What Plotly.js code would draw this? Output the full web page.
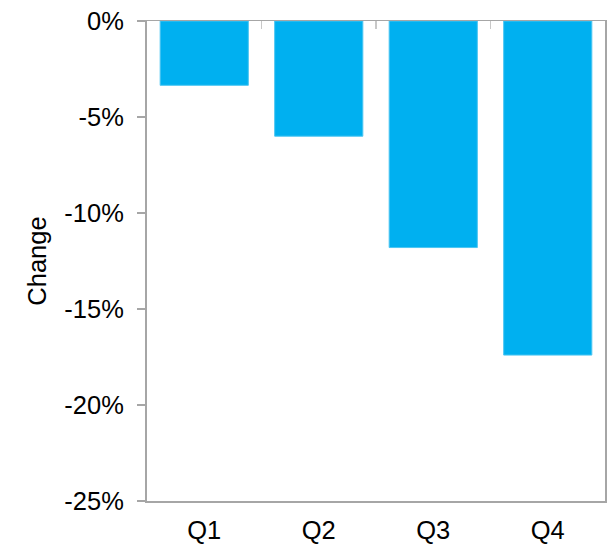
<!DOCTYPE html>
<html>
<head>
<meta charset="utf-8">
<script src="https://cdn.plot.ly/plotly-3.0.1.min.js"></script>
<style>html,body{margin:0;padding:0;background:#fff;}</style>
</head>
<body>
<div id="chart" style="width:608px;height:545px;"></div>
<script>
const categories = ["Q1", "Q2", "Q3", "Q4"];
const changeValues = [-0.0335, -0.060, -0.118, -0.174];
const yTickVals = [0, -0.05, -0.10, -0.15, -0.20, -0.25];
const yTickText = ["0%", "-5%", "-10%", "-15%", "-20%", "-25%"];

const font = {family: "Liberation Sans, Arial, sans-serif", size: 25.5, color: "#000"};
const lineColor = "#a6a6a6";

const traces = [
  {
    type: "bar",
    x: categories,
    y: changeValues,
    marker: {color: "#00b0f0", line: {color: "#4cc6f2", width: 1}},
    hoverinfo: "skip"
  },
  {
    type: "scatter",
    mode: "markers",
    x: categories,
    y: changeValues,
    xaxis: "x2",
    marker: {size: 0, opacity: 0},
    hoverinfo: "skip",
    showlegend: false
  }
];

const layout = {
  width: 608,
  height: 545,
  margin: {l: 147, r: 3, t: 21, b: 44},
  paper_bgcolor: "#fff",
  plot_bgcolor: "#fff",
  showlegend: false,
  bargap: 0.23,
  font: font,
  xaxis: {
    type: "category",
    range: [-0.5, 3.5],
    showline: true,
    linecolor: lineColor,
    linewidth: 1.5,
    ticks: "",
    showgrid: false,
    zeroline: false,
    tickfont: font,
    ticklabelstandoff: 6,
    fixedrange: true
  },
  xaxis2: {
    type: "category",
    overlaying: "x",
    side: "top",
    range: [-0.5, 3.5],
    showline: true,
    linecolor: lineColor,
    linewidth: 1.5,
    ticks: "inside",
    tickson: "boundaries",
    ticklen: 8,
    tickwidth: 1.5,
    tickcolor: "#c8c8c8",
    showticklabels: false,
    showgrid: false,
    zeroline: false
  },
  yaxis: {
    range: [-0.25, 0],
    tickvals: yTickVals,
    ticktext: yTickText,
    ticks: "outside",
    ticklen: 8,
    tickwidth: 1.5,
    tickcolor: lineColor,
    ticklabelstandoff: 8,
    showline: true,
    mirror: true,
    linecolor: lineColor,
    linewidth: 2,
    showgrid: false,
    zeroline: false,
    tickfont: font,
    title: {text: "Change", font: font, standoff: 10}
  }
};

Plotly.newPlot("chart", traces, layout, {displayModeBar: false, staticPlot: true});
</script>
</body>
</html>
